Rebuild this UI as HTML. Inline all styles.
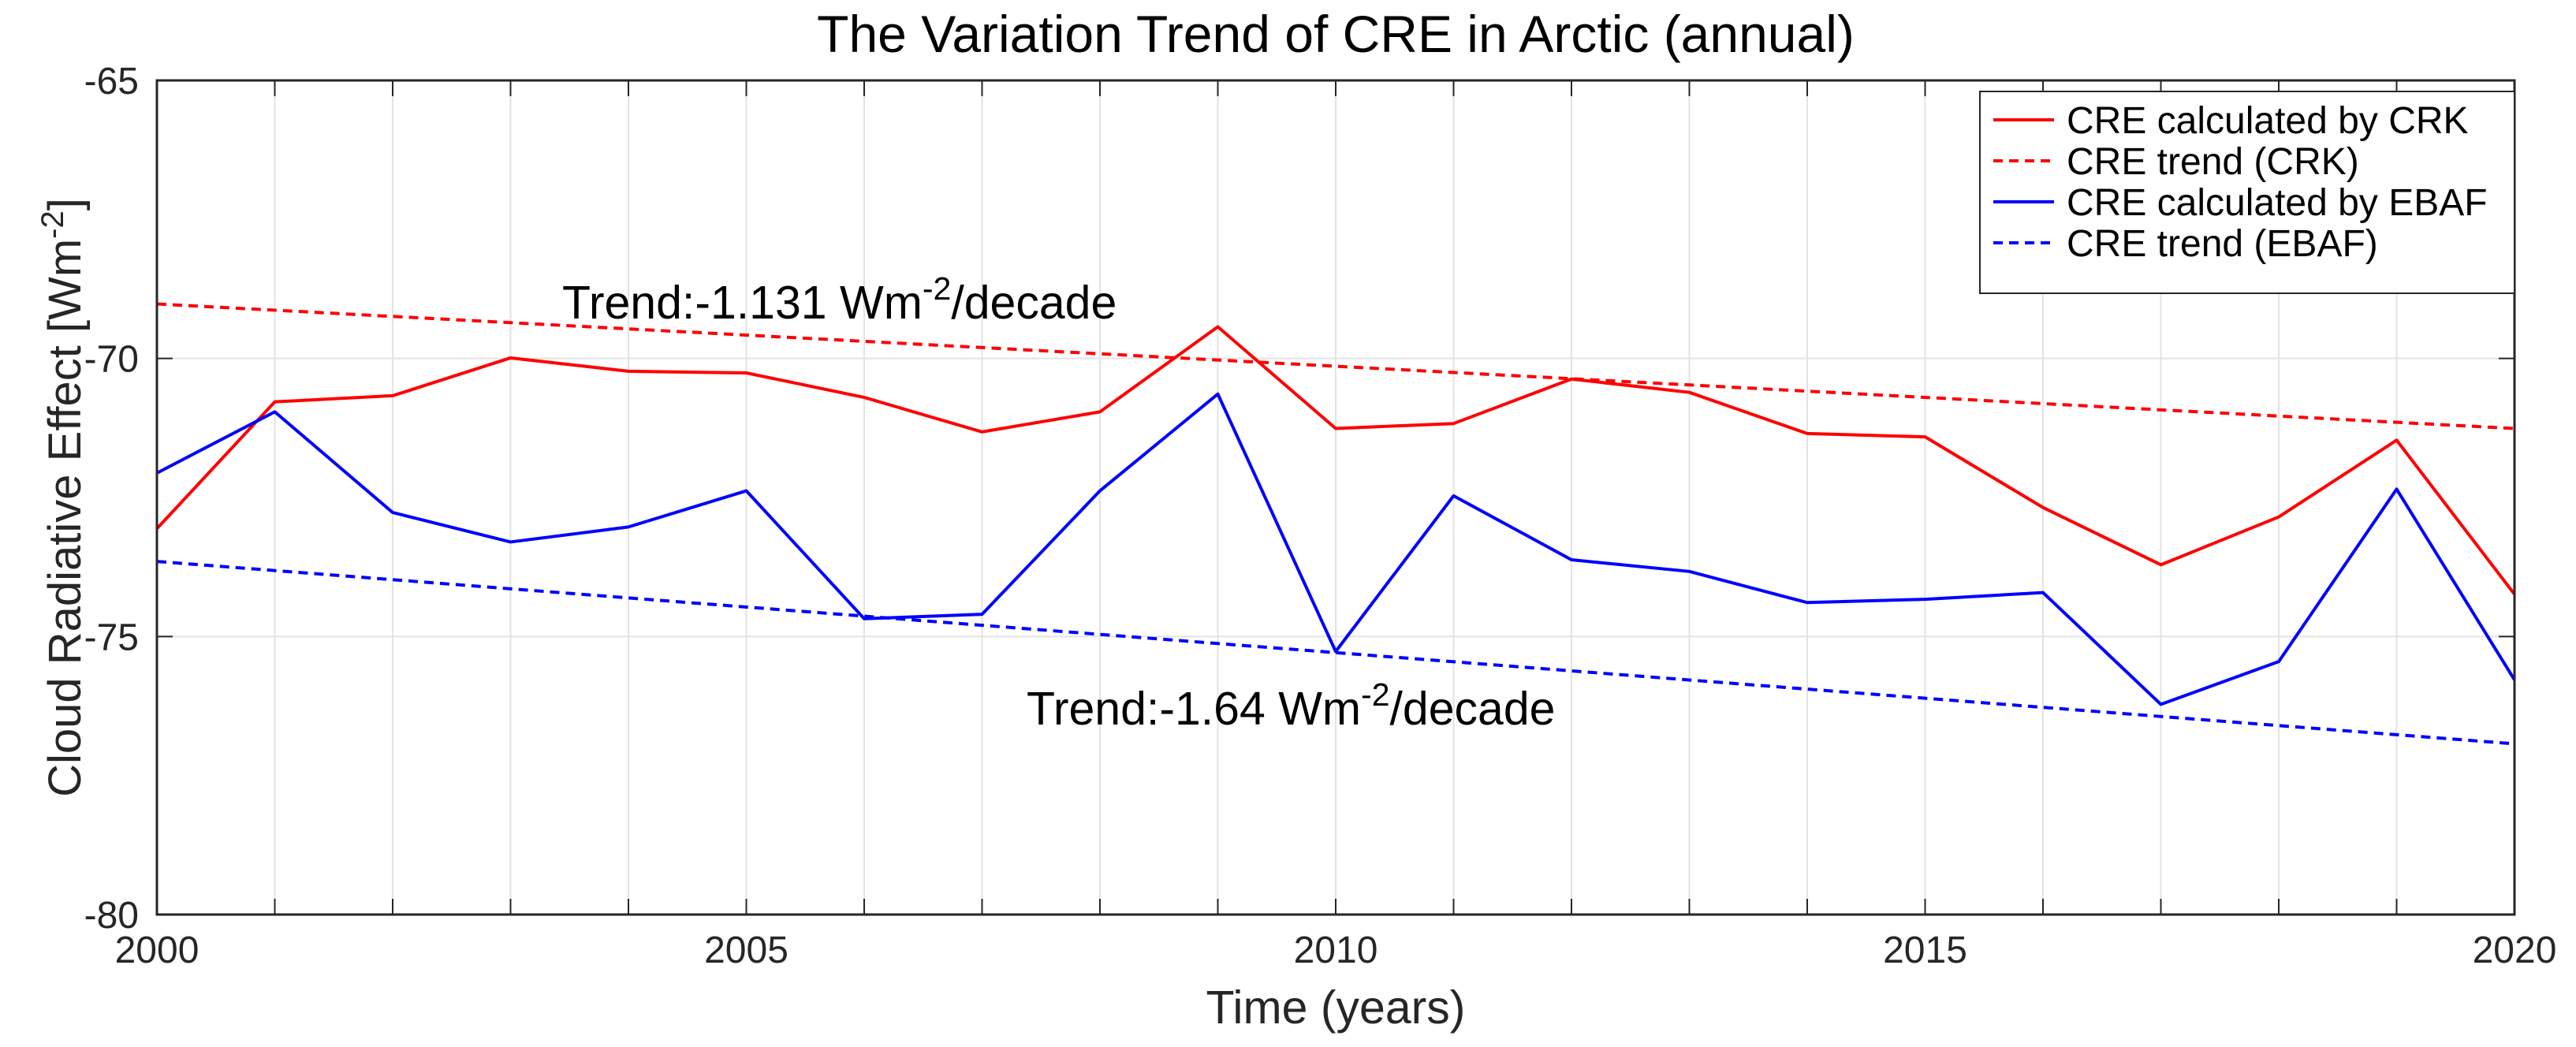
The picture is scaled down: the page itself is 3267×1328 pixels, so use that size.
<!DOCTYPE html>
<html><head><meta charset="utf-8"><style>
html,body{margin:0;padding:0;background:#fff}
svg{display:block;font-family:"Liberation Sans",Arial,sans-serif}
</style></head><body>
<svg id="chart" width="3267" height="1328" viewBox="0 0 3267 1328" xmlns="http://www.w3.org/2000/svg">
<rect width="3267" height="1328" fill="#fff"/>
<g id="grid"></g>
<g id="series"></g>
<rect x="199" y="102" width="2990" height="1058" fill="none" stroke="#262626" stroke-width="3"/>
<g id="ticks"></g>
<text x="1694" y="66" font-size="66" text-anchor="middle" fill="#000">The Variation Trend of CRE in Arctic (annual)</text>
<text x="1694" y="1298" font-size="59" text-anchor="middle" fill="#262626">Time (years)</text>
<text transform="translate(102,631) rotate(-90)" font-size="58" text-anchor="middle" fill="#262626">Cloud Radiative Effect [Wm<tspan dy="-22" font-size="40">-2</tspan><tspan dy="22">]</tspan></text>
<text x="713" y="404" font-size="59" fill="#000">Trend:-1.131 Wm<tspan dy="-24" font-size="41">-2</tspan><tspan dy="24">/decade</tspan></text>
<text x="1302" y="919" font-size="59" fill="#000">Trend:-1.64 Wm<tspan dy="-24" font-size="41">-2</tspan><tspan dy="24">/decade</tspan></text>
<g>
<rect x="2511" y="116" width="678" height="256" fill="#fff" stroke="#262626" stroke-width="2"/>
<g><line x1="2528" y1="152" x2="2605" y2="152" stroke="#ff0000" stroke-width="4"/><text x="2621" y="169" font-size="48">CRE calculated by CRK</text></g>
<g><line x1="2528" y1="204" x2="2605" y2="204" stroke="#ff0000" stroke-width="4" stroke-dasharray="12,8"/><text x="2621" y="221" font-size="48">CRE trend (CRK)</text></g>
<g><line x1="2528" y1="256" x2="2605" y2="256" stroke="#0000ff" stroke-width="4"/><text x="2621" y="273" font-size="48">CRE calculated by EBAF</text></g>
<g><line x1="2528" y1="308" x2="2605" y2="308" stroke="#0000ff" stroke-width="4" stroke-dasharray="12,8"/><text x="2621" y="325" font-size="48">CRE trend (EBAF)</text></g>
</g>
</svg>
<script>
const years = [2000,2001,2002,2003,2004,2005,2006,2007,2008,2009,2010,2011,2012,2013,2014,2015,2016,2017,2018,2019,2020];
const creCRK = [-73.06,-70.78,-70.67,-69.99,-70.23,-70.26,-70.7,-71.32,-70.96,-69.43,-71.26,-71.17,-70.37,-70.61,-71.35,-71.41,-72.68,-73.71,-72.85,-71.47,-74.24];
const creEBAF = [-72.06,-70.96,-72.77,-73.3,-73.03,-72.38,-74.68,-74.6,-72.38,-70.64,-75.27,-72.47,-73.62,-73.83,-74.39,-74.33,-74.21,-76.22,-75.45,-72.35,-75.78];
const trendCRKEnds = [-69.02,-71.26];
const trendEBAFEnds = [-73.65,-76.93];
const xTicks = [2000,2005,2010,2015,2020];
const yTicks = [-65,-70,-75,-80];

const NS='http://www.w3.org/2000/svg';
const L=199,R=3189,T=102,B=1160;
const xs=v=>L+(v-2000)/20*(R-L);
const ys=v=>T+(-65-v)/15*(B-T);
function mk(tag,attrs,parent){const e=document.createElementNS(NS,tag);for(const k in attrs)e.setAttribute(k,attrs[k]);parent.appendChild(e);return e;}
const grid=document.getElementById('grid'),ser=document.getElementById('series'),tk=document.getElementById('ticks');
years.forEach(y=>{
  const g=mk('line',{x1:xs(y),x2:xs(y),y1:T,y2:B,stroke:'#e3e3e3','stroke-width':2},grid);
  
  
  [[B,B-20],[T,T+20]].forEach(p=>{const t=mk('line',{x1:xs(y),x2:xs(y),y1:p[0],y2:p[1],stroke:'#262626','stroke-width':2},tk);
  
  });
});
yTicks.forEach(v=>{
  const g=mk('line',{x1:L,x2:R,y1:ys(v),y2:ys(v),stroke:'#e3e3e3','stroke-width':2},grid);
  
  
  [[L,L+20],[R,R-20]].forEach(p=>{const t=mk('line',{x1:p[0],x2:p[1],y1:ys(v),y2:ys(v),stroke:'#262626','stroke-width':2},tk);
  
  });
  const lb=mk('text',{x:176,y:ys(v)+17,'font-size':48,'text-anchor':'end',fill:'#262626'},tk);
  lb.textContent=v;
  
  
});
xTicks.forEach(v=>{
  const lb=mk('text',{x:xs(v),y:1221,'font-size':48,'text-anchor':'middle',fill:'#262626'},tk);
  lb.textContent=v;
  
  
});
function line(vals,color,dash,name){
  const pts=vals.map((v,i)=>xs(years[i])+','+ys(v)).join(' ');
  const p=mk('polyline',{points:pts,fill:'none',stroke:color,'stroke-width':4,'stroke-linejoin':'round'},ser);
  if(dash)p.setAttribute('stroke-dasharray',dash);
  
  
}
function trend(ends,color,name){
  const p=mk('line',{x1:xs(years[0]),y1:ys(ends[0]),x2:xs(years[years.length-1]),y2:ys(ends[1]),stroke:color,'stroke-width':4,'stroke-dasharray':'12,8'},ser);
  
  
}
trend(trendCRKEnds,'#ff0000','crk-trend-line');
trend(trendEBAFEnds,'#0000ff','ebaf-trend-line');
line(creCRK,'#ff0000',null,'crk-cre-line');
line(creEBAF,'#0000ff',null,'ebaf-cre-line');
</script>
</body></html>
